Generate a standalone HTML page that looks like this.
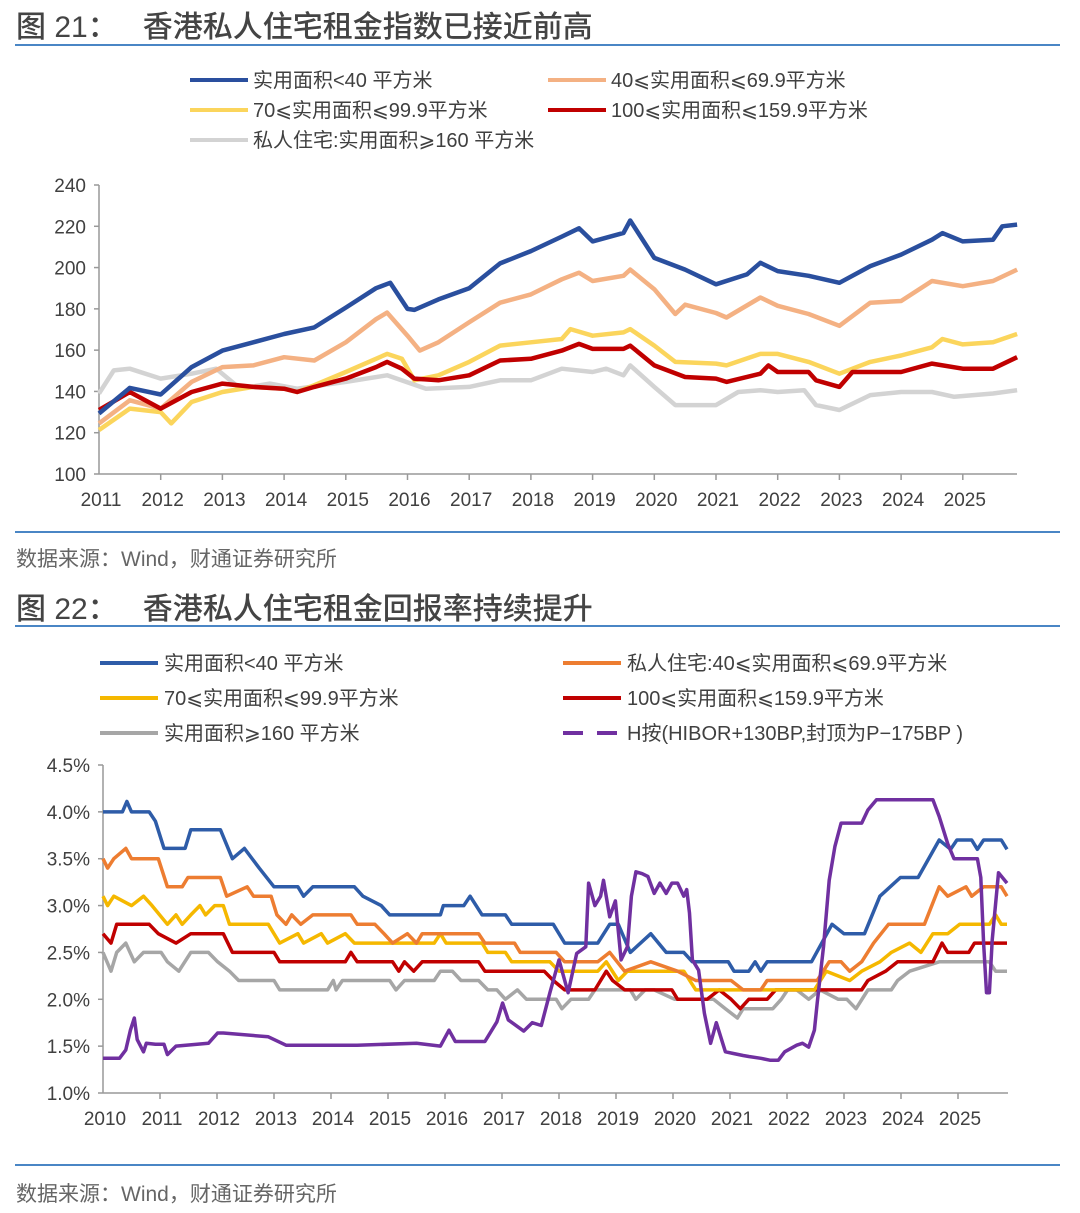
<!DOCTYPE html>
<html><head><meta charset="utf-8">
<style>
html,body{margin:0;padding:0;background:#fff;}
body{width:1080px;height:1213px;position:relative;overflow:hidden;font-family:"Liberation Sans","Noto Sans CJK SC",sans-serif;}
.t{position:absolute;color:#404040;white-space:nowrap;}
.title{font-size:30px;left:16px;color:#444;font-weight:500;}
.rule{position:absolute;left:15px;width:1045px;height:2px;background:#4a86c5;}
.src{font-size:21px;left:16px;color:#666;}
svg text{font-family:"Liberation Sans","Noto Sans CJK SC",sans-serif;}
svg text.lg{font-family:"Liberation Sans","Noto Sans CJK SC",sans-serif;}
</style></head><body>
<div class="t title" style="top:2px;">图 21：&nbsp;&nbsp;&nbsp;香港私人住宅租金指数已接近前高</div>
<div class="rule" style="top:44px;"></div>
<svg id="c1" style="position:absolute;left:0;top:50px" width="1080" height="470"></svg>
<div class="rule" style="top:531px;"></div>
<div class="t src" style="top:543px;">数据来源：Wind，财通证券研究所</div>
<div class="t title" style="top:584px;">图 22：&nbsp;&nbsp;&nbsp;香港私人住宅租金回报率持续提升</div>
<div class="rule" style="top:625px;"></div>
<svg id="c2" style="position:absolute;left:0;top:630px" width="1080" height="530"></svg>
<div class="rule" style="top:1164px;"></div>
<div class="t src" style="top:1178px;">数据来源：Wind，财通证券研究所</div>
<script>
// ---------- Chart 1 data (x = years since 2011) ----------
const c1Years = ["2011","2012","2013","2014","2015","2016","2017","2018","2019","2020","2021","2022","2023","2024","2025"];
const c1Ticks = [100,120,140,160,180,200,220,240];
const c1Names = ["实用面积<40 平方米","40≤实用面积≤69.9平方米","70≤实用面积≤99.9平方米","100≤实用面积≤159.9平方米","私人住宅:实用面积≥160 平方米"];
const c1Blue = [[0,129.3],[.5,141.7],[1,138.5],[1.5,151.8],[2,159.8],[2.5,163.8],[3,167.8],[3.49,171],[4,180.6],[4.49,190],[4.72,192.6],[5,180],[5.11,179.5],[5.5,184.6],[6,190],[6.5,202],[7,208],[7.5,215],[7.78,219],[8,212.7],[8.5,216.8],[8.61,222.8],[9,204.7],[9.5,199],[10,191.9],[10.5,196.7],[10.72,202.3],[11,198.3],[11.5,196],[12,192.6],[12.5,200.7],[13,206.3],[13.5,213.5],[13.67,216.7],[14,212.7],[14.49,213.5],[14.64,220],[14.88,220.8]];
const c1Peach = [[0,124.5],[.5,135.7],[1,131.7],[1.5,144.6],[2,151.8],[2.5,152.6],[3,156.6],[3.49,155],[4,163.8],[4.49,175],[4.67,178.2],[5,167],[5.2,159.8],[5.5,163.8],[6,173.5],[6.5,183],[7,187],[7.5,194.3],[7.78,197.5],[8,193.5],[8.5,196],[8.61,199],[9,189.5],[9.34,177.5],[9.5,182],[10,178],[10.17,175.8],[10.72,185.5],[11,181.5],[11.5,177.5],[12,171.8],[12.5,183],[13,183.8],[13.5,193.5],[14,191],[14.49,193.5],[14.88,199]];
const c1Yellow = [[0,121.3],[.5,131.7],[1,130],[1.17,124.5],[1.5,134.9],[2,139.7],[2.5,142.2],[3,141.3],[3.21,139.7],[3.49,143],[4,149.4],[4.49,155.8],[4.67,158.2],[4.91,155.8],[5.11,145.4],[5.5,147.8],[6,154.3],[6.5,162.2],[7,163.8],[7.5,165.4],[7.64,170.2],[8,167],[8.5,168.6],[8.61,170.2],[9,162.2],[9.34,154.3],[10,153.5],[10.17,152.6],[10.72,158.2],[11,158.2],[11.5,154.3],[12,148.6],[12.5,154.3],[13,157.4],[13.5,161.4],[13.67,165.4],[14,162.8],[14.49,163.8],[14.88,167.8]];
const c1Red = [[0,131],[.5,139.7],[1,131.7],[1.5,139.7],[2,143.8],[2.5,142.2],[3,141.3],[3.21,139.7],[3.49,142.2],[4,146.2],[4.49,151.8],[4.67,154.3],[4.91,151],[5.11,146.2],[5.5,145.4],[6,147.8],[6.5,155],[7,155.8],[7.5,159.8],[7.78,163],[8,160.6],[8.5,160.6],[8.61,162.2],[9,152.6],[9.5,147],[10,146.2],[10.17,144.6],[10.72,148.6],[10.85,152.6],[11,149.4],[11.5,149.4],[11.62,145.4],[12,142.2],[12.21,149.4],[13,149.4],[13.5,153.5],[14,151],[14.49,151],[14.88,156.6]];
const c1Gray = [[0,139],[.24,150.2],[.5,151],[1,146.2],[1.5,148.6],[1.9,151],[2.29,141.3],[2.77,143.8],[3.21,141.3],[4,144.6],[4.67,147.8],[5.3,141.3],[6,142.2],[6.5,145.4],[7,145.4],[7.5,151],[8,149.4],[8.22,151],[8.5,147.8],[8.61,152.6],[9,142.2],[9.34,133.4],[10,133.4],[10.36,139.7],[10.72,140.6],[11,139.7],[11.43,140.6],[11.62,133.4],[12,131],[12.5,138.2],[13,139.7],[13.5,139.7],[13.86,137.4],[14.49,139],[14.88,140.6]];

// ---------- Chart 2 data (x = years since 2010, values in %) ----------
const c2Years = ["2010","2011","2012","2013","2014","2015","2016","2017","2018","2019","2020","2021","2022","2023","2024","2025"];
const c2Ticks = [1.0,1.5,2.0,2.5,3.0,3.5,4.0,4.5];
const c2Blue = [[0,4.0],[.34,4.0],[.42,4.11],[.5,4.0],[.81,4.0],[.92,3.9],[1.07,3.61],[1.44,3.61],[1.54,3.81],[2.06,3.81],[2.27,3.5],[2.48,3.61],[2.74,3.4],[3.0,3.2],[3.42,3.2],[3.52,3.1],[3.68,3.2],[4.41,3.2],[4.56,3.1],[4.88,3.0],[5.03,2.9],[5.92,2.9],[5.97,3.0],[6.33,3.0],[6.44,3.1],[6.65,2.9],[7.06,2.9],[7.17,2.8],[7.9,2.8],[8.1,2.6],[8.68,2.6],[8.89,2.8],[9.04,2.8],[9.25,2.5],[9.61,2.7],[9.88,2.5],[10.19,2.5],[10.34,2.4],[10.97,2.4],[11.07,2.3],[11.33,2.3],[11.44,2.4],[11.54,2.3],[11.65,2.4],[12.43,2.4],[12.79,2.8],[13.0,2.7],[13.36,2.7],[13.63,3.1],[13.99,3.3],[14.3,3.3],[14.67,3.7],[14.87,3.6],[14.98,3.7],[15.24,3.7],[15.34,3.6],[15.45,3.7],[15.76,3.7],[15.86,3.6]];
const c2Orange = [[0,3.5],[.08,3.4],[.19,3.5],[.4,3.61],[.5,3.5],[.97,3.5],[1.13,3.2],[1.39,3.2],[1.49,3.3],[2.06,3.3],[2.17,3.1],[2.53,3.2],[2.64,3.1],[2.95,3.1],[3.05,2.9],[3.21,2.8],[3.31,2.9],[3.47,2.8],[3.68,2.9],[4.35,2.9],[4.46,2.8],[4.77,2.8],[4.93,2.7],[5.08,2.6],[5.34,2.7],[5.5,2.6],[5.6,2.7],[6.59,2.7],[6.7,2.6],[7.22,2.6],[7.32,2.5],[7.95,2.5],[8.1,2.4],[8.68,2.4],[8.89,2.5],[9.15,2.3],[9.61,2.4],[10.08,2.3],[10.4,2.2],[11.02,2.2],[11.23,2.1],[11.54,2.1],[11.65,2.2],[12.53,2.2],[12.74,2.4],[12.95,2.4],[13.1,2.3],[13.31,2.4],[13.52,2.6],[13.78,2.8],[14.41,2.8],[14.67,3.2],[14.82,3.1],[15.14,3.2],[15.24,3.1],[15.45,3.2],[15.76,3.2],[15.86,3.1]];
const c2Yellow = [[0,3.1],[.08,3.0],[.19,3.1],[.5,3.0],[.71,3.1],[.86,3.0],[1.13,2.8],[1.28,2.9],[1.39,2.8],[1.54,2.9],[1.7,3.0],[1.8,2.9],[1.96,3.0],[2.11,3.0],[2.22,2.8],[2.9,2.8],[3.1,2.6],[3.42,2.7],[3.52,2.6],[3.83,2.7],[3.94,2.6],[4.25,2.7],[4.41,2.6],[5.81,2.6],[5.92,2.7],[6.02,2.6],[6.65,2.6],[6.75,2.5],[7.06,2.5],[7.17,2.4],[7.84,2.4],[8.0,2.3],[8.68,2.3],[8.83,2.4],[9.04,2.2],[9.2,2.3],[10.19,2.3],[10.4,2.1],[12.48,2.1],[12.69,2.3],[13.1,2.2],[13.31,2.3],[13.63,2.4],[13.83,2.5],[14.15,2.6],[14.35,2.5],[14.56,2.7],[14.82,2.7],[15.03,2.8],[15.55,2.8],[15.66,2.9],[15.76,2.8],[15.86,2.8]];
const c2Red = [[0,2.7],[.14,2.6],[.24,2.8],[.81,2.8],[.97,2.7],[1.28,2.6],[1.54,2.7],[2.11,2.7],[2.27,2.5],[3.0,2.5],[3.1,2.4],[4.25,2.4],[4.35,2.5],[4.46,2.4],[5.08,2.4],[5.19,2.3],[5.29,2.4],[5.45,2.3],[5.6,2.4],[6.59,2.4],[6.7,2.3],[7.74,2.3],[7.9,2.2],[8.1,2.1],[8.63,2.1],[8.83,2.3],[8.94,2.2],[9.15,2.1],[9.98,2.1],[10.08,2.0],[10.6,2.0],[10.81,2.1],[11.02,2.0],[11.18,1.9],[11.33,2.0],[11.65,2.0],[11.8,2.1],[13.31,2.1],[13.42,2.2],[13.73,2.3],[13.94,2.4],[14.56,2.4],[14.72,2.6],[14.82,2.5],[15.19,2.5],[15.29,2.6],[15.86,2.6]];
const c2Gray = [[0,2.5],[.14,2.3],[.24,2.5],[.4,2.6],[.55,2.4],[.71,2.5],[1.02,2.5],[1.13,2.4],[1.33,2.3],[1.54,2.5],[1.85,2.5],[2.01,2.4],[2.22,2.3],[2.38,2.2],[3.0,2.2],[3.1,2.1],[3.94,2.1],[4.04,2.2],[4.09,2.1],[4.2,2.2],[5.03,2.2],[5.14,2.1],[5.29,2.2],[5.81,2.2],[5.92,2.3],[6.13,2.3],[6.28,2.2],[6.59,2.2],[6.75,2.1],[6.91,2.1],[7.06,2.0],[7.27,2.1],[7.43,2.0],[7.95,2.0],[8.05,1.9],[8.21,2.0],[8.52,2.0],[8.63,2.1],[9.25,2.1],[9.35,2.0],[9.51,2.1],[9.67,2.1],[10.03,2.0],[10.71,2.0],[10.92,1.9],[11.13,1.8],[11.23,1.9],[11.75,1.9],[11.9,2.0],[12.01,2.1],[12.17,2.1],[12.38,2.0],[12.58,2.1],[12.9,2.0],[13.05,2.0],[13.21,1.9],[13.42,2.1],[13.83,2.1],[13.94,2.2],[14.15,2.3],[14.67,2.4],[15.55,2.4],[15.66,2.3],[15.86,2.3]];
const c2Purple = [[0,1.37],[.29,1.37],[.4,1.46],[.48,1.67],[.55,1.8],[.6,1.57],[.71,1.44],[.76,1.53],[.92,1.52],[1.07,1.52],[1.13,1.41],[1.28,1.5],[1.85,1.53],[2.01,1.64],[2.11,1.64],[2.9,1.6],[3.21,1.51],[4.46,1.51],[5.5,1.53],[5.92,1.5],[6.07,1.67],[6.18,1.55],[6.7,1.55],[6.91,1.76],[7.01,1.96],[7.11,1.78],[7.38,1.66],[7.53,1.75],[7.69,1.72],[7.84,2.07],[8.0,2.42],[8.16,2.07],[8.31,2.49],[8.47,2.56],[8.52,3.24],[8.63,3.0],[8.73,3.1],[8.78,3.27],[8.89,2.88],[8.99,3.05],[9.09,2.42],[9.2,2.56],[9.27,3.1],[9.35,3.36],[9.46,3.34],[9.56,3.31],[9.67,3.13],[9.77,3.24],[9.88,3.13],[9.98,3.24],[10.08,3.24],[10.19,3.1],[10.24,3.17],[10.29,2.92],[10.34,2.42],[10.45,2.31],[10.55,1.85],[10.66,1.53],[10.76,1.75],[10.92,1.44],[11.07,1.42],[11.23,1.4],[11.33,1.39],[11.54,1.37],[11.7,1.35],[11.85,1.35],[11.96,1.44],[12.17,1.51],[12.27,1.53],[12.38,1.49],[12.48,1.67],[12.53,1.96],[12.64,2.56],[12.74,3.27],[12.84,3.63],[12.95,3.88],[13.31,3.88],[13.42,4.02],[13.57,4.13],[14.56,4.13],[14.67,3.95],[14.82,3.66],[14.93,3.5],[15.34,3.5],[15.4,3.3],[15.45,2.6],[15.5,2.07],[15.55,2.07],[15.6,2.63],[15.71,3.35],[15.86,3.24]];

const NS='http://www.w3.org/2000/svg';
function mk(svg,tag,attrs){const e=document.createElementNS(NS,tag);for(const k in attrs)e.setAttribute(k,attrs[k]);svg.appendChild(e);return e;}

// ---- Chart 1 ----
(function(){
const svg=document.getElementById('c1'); const oy=50;
const L=99,R=1017,TOP=185-oy,BOT=474-oy;
const xs=t=>L+t*61.7;
const ys=v=>BOT-(v-100)/140*(BOT-TOP);
const ax=mk(svg,'line',{x1:L,y1:TOP,x2:L,y2:BOT,stroke:'#999','stroke-width':1.5});


const bx=mk(svg,'line',{x1:L,y1:BOT,x2:R,y2:BOT,stroke:'#999','stroke-width':1.5});


c1Ticks.forEach(v=>{
  mk(svg,'line',{x1:L-5,y1:ys(v),x2:L,y2:ys(v),stroke:'#999','stroke-width':1.5});
  const t=mk(svg,'text',{x:L-13,y:ys(v)+7,'text-anchor':'end','font-size':19,fill:'#404040'});t.textContent=v;
  
  
});
c1Years.forEach((y,i)=>{
  if(i>0)mk(svg,'line',{x1:xs(i),y1:BOT,x2:xs(i),y2:BOT+6,stroke:'#999','stroke-width':1.5});
  const t=mk(svg,'text',{x:xs(i)+2,y:BOT+32,'text-anchor':'middle','font-size':19,fill:'#404040'});t.textContent=y;
  
  
});
const series=[[c1Gray,'#d3d3d3','series-over-160'],[c1Yellow,'#fbd55c','series-70-99'],[c1Peach,'#f4b183','series-40-69'],[c1Red,'#c00000','series-100-159'],[c1Blue,'#2a4f9e','series-under-40']];
series.forEach(s=>{
  const p=mk(svg,'path',{d:'M'+s[0].map(d=>xs(d[0]).toFixed(1)+','+ys(d[1]).toFixed(1)).join('L'),fill:'none',stroke:s[1],'stroke-width':4.5,'stroke-linejoin':'round'});
  
  
});
const leg=[[190,80,'#2a4f9e',0],[548,80,'#f4b183',1],[190,110,'#fbd55c',2],[548,110,'#c00000',3],[190,140,'#d3d3d3',4]];
leg.forEach(l=>{
  const g=mk(svg,'g',{});
  
  
  mk(g,'line',{x1:l[0],y1:l[1]-oy,x2:l[0]+58,y2:l[1]-oy,stroke:l[2],'stroke-width':4});
  const t=mk(g,'text',{x:l[0]+63,y:l[1]-oy+7,'font-size':20,fill:'#404040',style:'font-family:"Liberation Sans","Noto Sans CJK SC",sans-serif'});t.textContent=c1Names[l[3]].replace(/≤/g,'\u2A7D').replace(/≥/g,'\u2A7E');
});
})();

// ---- Chart 2 ----
(function(){
const svg=document.getElementById('c2'); const oy=630;
const L=103,R=1008,TOP=765-oy,BOT=1093-oy;
const xs=t=>L+t*57;
const ys=v=>BOT-(v-1.0)/3.5*(BOT-TOP);
const ax=mk(svg,'line',{x1:L,y1:TOP,x2:L,y2:BOT,stroke:'#999','stroke-width':1.5});


const bx=mk(svg,'line',{x1:L,y1:BOT,x2:R,y2:BOT,stroke:'#999','stroke-width':1.5});


c2Ticks.forEach(v=>{
  mk(svg,'line',{x1:L-5,y1:ys(v),x2:L,y2:ys(v),stroke:'#999','stroke-width':1.5});
  const t=mk(svg,'text',{x:L-13,y:ys(v)+7,'text-anchor':'end','font-size':19,fill:'#404040'});t.textContent=v.toFixed(1)+'%';
  
  
});
c2Years.forEach((y,i)=>{
  if(i>0)mk(svg,'line',{x1:xs(i),y1:BOT,x2:xs(i),y2:BOT+6,stroke:'#999','stroke-width':1.5});
  const t=mk(svg,'text',{x:xs(i)+2,y:BOT+32,'text-anchor':'middle','font-size':19,fill:'#404040'});t.textContent=y;
  
  
});
const series=[[c2Gray,'#a6a6a6','series-over-160'],[c2Red,'#c00000','series-100-159'],[c2Yellow,'#f5b800','series-70-99'],[c2Orange,'#ed7d31','series-40-69'],[c2Blue,'#2e5ca8','series-under-40'],[c2Purple,'#7030a0','series-h-mortgage']];
series.forEach(s=>{
  const p=mk(svg,'path',{d:'M'+s[0].map(d=>xs(d[0]).toFixed(1)+','+ys(d[1]).toFixed(1)).join('L'),fill:'none',stroke:s[1],'stroke-width':3.5,'stroke-linejoin':'round'});
  
  
});
const leg=[[100,663,'#2e5ca8','实用面积<40 平方米',0],[563,663,'#ed7d31','私人住宅:40⩽实用面积⩽69.9平方米',0],[100,698,'#f5b800','70⩽实用面积⩽99.9平方米',0],[563,698,'#c00000','100⩽实用面积⩽159.9平方米',0],[100,733,'#a6a6a6','实用面积⩾160 平方米',0],[563,733,'#7030a0','H按(HIBOR+130BP,封顶为P−175BP )',1]];
leg.forEach(l=>{
  const g=mk(svg,'g',{});
  
  
  const a={x1:l[0],y1:l[1]-oy,x2:l[0]+58,y2:l[1]-oy,stroke:l[2],'stroke-width':4};
  if(l[4])a['stroke-dasharray']='20 14';
  mk(g,'line',a);
  const t=mk(g,'text',{x:l[0]+64,y:l[1]-oy+7,'font-size':20,fill:'#404040'});t.textContent=l[3];
});
})();
</script>
</body></html>
